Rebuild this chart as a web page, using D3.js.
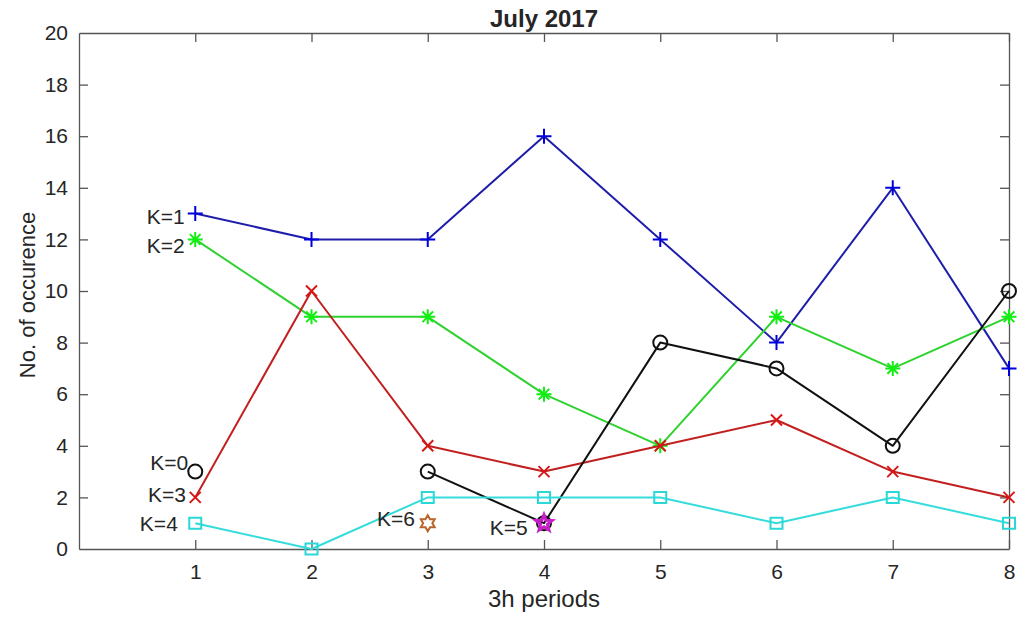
<!DOCTYPE html>
<html>
<head>
<meta charset="utf-8">
<script src="https://cdn.jsdelivr.net/npm/d3@7"></script>
<style>
  body { margin: 0; background: #fff; }
  svg { display: block; }
  text { font-family: "Liberation Sans", Arial, Helvetica, sans-serif; fill: #262626; }
</style>
</head>
<body>
<svg id="chart" width="1021" height="619"></svg>
<script>
// Occurrences per 3-hour period, July 2017, one series per K index
const periods = [1, 2, 3, 4, 5, 6, 7, 8];
const k1 = [13, 12, 12, 16, 12, 8, 14, 7];
const k2 = [12, 9, 9, 6, 4, 9, 7, 9];
const k3 = [2, 10, 4, 3, 4, 5, 3, 2];
const k0 = [3, null, 3, 1, 8, 7, 4, 10];
const k4 = [1, 0, 2, 2, 2, 1, 2, 1];
const k5 = [null, null, null, 1, null, null, null, null];
const k6 = [null, null, 1, null, null, null, null, null];

const xTicks = [1, 2, 3, 4, 5, 6, 7, 8];
const yTicks = [0, 2, 4, 6, 8, 10, 12, 14, 16, 18, 20];

// In-plot annotations (data coordinates, text right-aligned at x)
const labelNames = ["K=1", "K=2", "K=0", "K=3", "K=4", "K=6", "K=5"];
const labelX = [0.91, 0.91, 0.94, 0.92, 0.85, 2.89, 3.86];
const labelY = [12.9, 11.75, 3.33, 2.09, 1.0, 1.16, 0.81];

const series = [
  { values: k1, line: "#1e1eaa", marker: "#0000dd", shape: "plus" },
  { values: k2, line: "#2ed22e", marker: "#11ee11", shape: "star" },
  { values: k3, line: "#c21f1f", marker: "#d81515", shape: "x" },
  { values: k0, line: "#111111", marker: "#111111", shape: "circle" },
  { values: k4, line: "#35dcdc", marker: "#2ad8d8", shape: "square" },
  { values: k5, line: "#cc22cc", marker: "#c81ec8", shape: "pentagram" },
  { values: k6, line: "#b8642a", marker: "#b8642a", shape: "hexagram" }
];

const svg = d3.select("#chart");
const W = 1021, H = 619;
const m = { left: 79, right: 12, top: 33, bottom: 70 };
const x0 = m.left, x1 = W - m.right, y0 = m.top, y1 = H - m.bottom;

const x = d3.scaleLinear().domain([0, 8]).range([x0, x1]);
const y = d3.scaleLinear().domain([0, 20]).range([y1, y0]);

const axisColor = "#555555";
const tickLen = 9;
const fontFam = '"Liberation Sans", Arial, Helvetica, sans-serif';

// Axes with ticks pointing inward, mirrored on top and right (box on)
const gx = svg.append("g").attr("transform", `translate(0,${y1})`)
  .call(d3.axisBottom(x).tickValues(xTicks).tickSizeInner(-tickLen).tickSizeOuter(0));
const gxTop = svg.append("g").attr("transform", `translate(0,${y0})`)
  .call(d3.axisTop(x).tickValues(xTicks).tickSizeInner(-tickLen).tickSizeOuter(0).tickFormat(""));
const gy = svg.append("g").attr("transform", `translate(${x0},0)`)
  .call(d3.axisLeft(y).tickValues(yTicks).tickSizeInner(-tickLen).tickSizeOuter(0).tickPadding(11));
const gyRight = svg.append("g").attr("transform", `translate(${x1},0)`)
  .call(d3.axisRight(y).tickValues(yTicks).tickSizeInner(-tickLen).tickSizeOuter(0).tickFormat(""));

[gx, gxTop, gy, gyRight].forEach(g => {
  g.select(".domain").attr("stroke", axisColor).attr("stroke-width", 1.3);
  g.selectAll(".tick line").attr("stroke", axisColor).attr("stroke-width", 1.3);
  g.selectAll(".tick text").attr("fill", "#262626").style("font-size", "21px")
    .style("font-family", fontFam);
});
// hide ticks at the corners so they don't overlap the frame
gy.selectAll(".tick").filter(d => d === 0 || d === 20).select("line").remove();
gyRight.selectAll(".tick").filter(d => d === 0 || d === 20).select("line").remove();
gx.selectAll(".tick text").attr("dy", "0.35em").attr("y", 23);

// Title and axis labels
svg.append("text").attr("x", (x0 + x1) / 2).attr("y", 27)
  .attr("text-anchor", "middle").style("font-size", "24px").style("font-weight", "bold")
  .attr("fill", "#000").text("July 2017");
svg.append("text").attr("x", (x0 + x1) / 2).attr("y", 607)
  .attr("text-anchor", "middle").style("font-size", "24px").text("3h periods");
svg.append("text").attr("transform", `translate(35,${(y0 + y1) / 2 + 4}) rotate(-90)`)
  .attr("text-anchor", "middle").style("font-size", "22px").text("No. of occurence");

// Marker path generator (centered at 0,0)
function markerPath(shape) {
  const p = d3.path();
  if (shape === "plus") {
    const s = 7.5;
    p.moveTo(-s, 0); p.lineTo(s, 0); p.moveTo(0, -s); p.lineTo(0, s);
  } else if (shape === "x") {
    const s = 5.5;
    p.moveTo(-s, -s); p.lineTo(s, s); p.moveTo(-s, s); p.lineTo(s, -s);
  } else if (shape === "star") {
    const s = 7.5, d = 5.3;
    p.moveTo(-s, 0); p.lineTo(s, 0); p.moveTo(0, -s); p.lineTo(0, s);
    p.moveTo(-d, -d); p.lineTo(d, d); p.moveTo(-d, d); p.lineTo(d, -d);
  } else if (shape === "circle") {
    p.moveTo(7, 0); p.arc(0, 0, 7, 0, 2 * Math.PI);
  } else if (shape === "square") {
    p.rect(-6, -5.5, 12, 11);
  } else if (shape === "pentagram" || shape === "hexagram") {
    const n = shape === "pentagram" ? 5 : 6;
    const ro = shape === "pentagram" ? 8.5 : 8, ri = shape === "pentagram" ? 3.6 : 4.6;
    for (let i = 0; i < 2 * n; i++) {
      const r = i % 2 === 0 ? ro : ri;
      const a = -Math.PI / 2 + i * Math.PI / n;
      if (i === 0) p.moveTo(r * Math.cos(a), r * Math.sin(a));
      else p.lineTo(r * Math.cos(a), r * Math.sin(a));
    }
    p.closePath();
  }
  return p.toString();
}

const lineGen = d3.line()
  .defined(d => d.v !== null)
  .x(d => x(d.p))
  .y(d => y(d.v));

series.forEach(s => {
  const pts = periods.map((p, i) => ({ p, v: s.values[i] }));
  const g = svg.append("g");
  g.append("path").datum(pts)
    .attr("d", lineGen)
    .attr("fill", "none")
    .attr("stroke", s.line)
    .attr("stroke-width", 2)
    .attr("stroke-linejoin", "round");
  g.selectAll("path.mk").data(pts.filter(d => d.v !== null)).join("path")
    .attr("class", "mk")
    .attr("transform", d => `translate(${x(d.p)},${y(d.v)})`)
    .attr("d", markerPath(s.shape))
    .attr("fill", "none")
    .attr("stroke", s.marker)
    .attr("stroke-width", s.shape === "pentagram" ? 3 : 2);
});

// K labels
svg.append("g").selectAll("text").data(labelNames).join("text")
  .attr("x", (d, i) => x(labelX[i]))
  .attr("y", (d, i) => y(labelY[i]))
  .attr("dy", "0.35em")
  .attr("text-anchor", "end")
  .style("font-size", "21px")
  .attr("fill", "#000")
  .text(d => d);
</script>
</body>
</html>
